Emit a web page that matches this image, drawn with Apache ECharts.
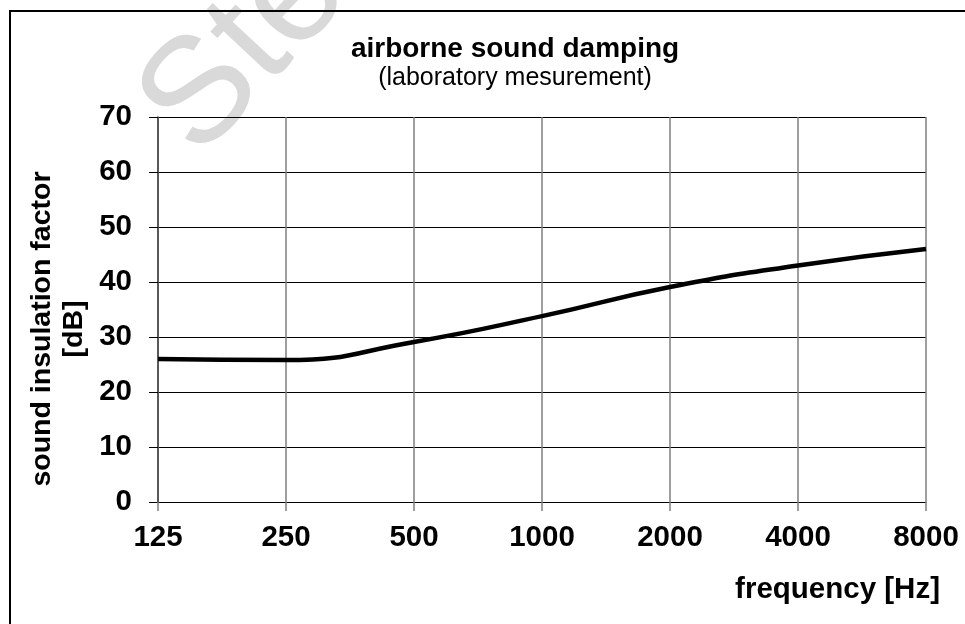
<!DOCTYPE html>
<html>
<head>
<meta charset="utf-8">
<script src="https://cdn.jsdelivr.net/npm/echarts@6/dist/echarts.min.js"></script>
<style>
html,body{margin:0;padding:0;background:#fff;}
#chart{width:965px;height:624px;}
</style>
</head>
<body>
<div id="chart"></div>
<script>
var categories = ['125', '250', '500', '1000', '2000', '4000', '8000'];
var insulation = [26.0, 25.8, 29.1, 33.8, 39.1, 43.0, 46.0];
var titleText = 'airborne sound damping';
var subtitleText = '(laboratory mesurement)';
var yName1 = 'sound insulation factor';
var yName2 = '[dB]';
var xName = 'frequency [Hz]';
var watermark = 'Ste';

var FONT = '"Liberation Sans", Arial, sans-serif';
var chart = echarts.init(document.getElementById('chart'));
chart.setOption({
  animation: false,
  backgroundColor: '#fff',
  title: {
    text: titleText,
    subtext: subtitleText,
    left: 510,
    top: 30,
    textAlign: 'center',
    itemGap: 3,
    textStyle: {fontFamily: FONT, fontSize: 28, fontWeight: 'bold', color: '#000'},
    subtextStyle: {fontFamily: FONT, fontSize: 25, color: '#000'}
  },
  grid: {left: 158, right: 39, top: 117, bottom: 122, containLabel: false},
  xAxis: {
    type: 'category',
    data: categories,
    boundaryGap: false,
    axisLine: {show: true, lineStyle: {color: '#000', width: 1}},
    axisTick: {show: true, length: 9, lineStyle: {color: '#7f7f7f', width: 1.5}},
    splitLine: {show: true, lineStyle: {color: '#7f7f7f', width: 1.5}},
    axisLabel: {margin: 21, fontFamily: FONT, fontSize: 29.5, fontWeight: 'bold', color: '#000'}
  },
  yAxis: {
    type: 'value',
    min: 0, max: 70, interval: 10,
    axisLine: {show: true, lineStyle: {color: '#404040', width: 1.5}},
    axisTick: {show: true, length: 9, lineStyle: {color: '#000', width: 1}},
    splitLine: {show: true, lineStyle: {color: '#000', width: 1}},
    axisLabel: {margin: 26, fontFamily: FONT, fontSize: 29.5, fontWeight: 'bold', color: '#000'}
  },
  graphic: [
    {type: 'text', x: 245, y: 50, rotation: 0.82, z: -10, silent: true,
     style: {text: watermark, fontFamily: FONT, fontSize: 150, fill: '#d9d9d9', align: 'center', verticalAlign: 'middle'}},
    {type: 'rect', shape: {x: 10, y: 11, width: 1000, height: 700}, z: -5, silent: true,
     style: {fill: 'none', stroke: '#000', lineWidth: 2}},
    {type: 'text', x: 58, y: 329, rotation: Math.PI / 2, silent: true,
     style: {text: yName1 + '\n' + yName2, fontFamily: FONT, fontSize: 28.5, fontWeight: 'bold', fill: '#000', align: 'center', verticalAlign: 'middle', lineHeight: 32}},
    {type: 'text', x: 940, y: 590, silent: true,
     style: {text: xName, fontFamily: FONT, fontSize: 29.5, fontWeight: 'bold', fill: '#000', align: 'right', verticalAlign: 'middle'}}
  ],
  series: [{
    type: 'line',
    data: insulation,
    smooth: 0.5,
    symbol: 'none',
    lineStyle: {color: '#000', width: 4.5},
    z: 5
  }]
});
</script>
</body>
</html>
